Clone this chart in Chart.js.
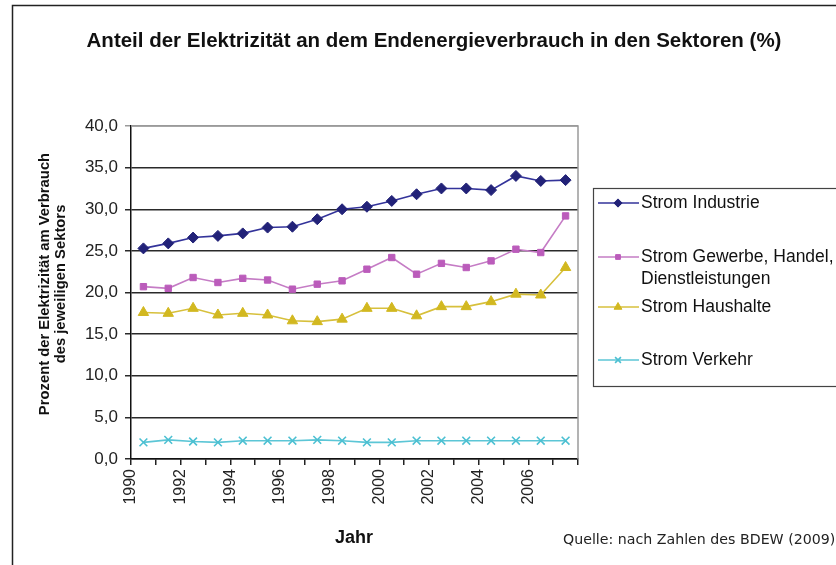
<!DOCTYPE html>
<html>
<head>
<meta charset="utf-8">
<script src="https://cdn.jsdelivr.net/npm/chart.js@4.4.1/dist/chart.umd.min.js"></script>
<style>
    html, body { margin: 0; padding: 0; background: #fff; }
    #wrap { width: 836px; height: 565px; position: relative; }
</style>
</head>
<body>
<div id="wrap"><canvas id="stromChart" width="836" height="565"></canvas></div>
<script>
/* ==========================================================
   DATEN
========================================================== */

const jahre = [1990, 1991, 1992, 1993, 1994, 1995, 1996, 1997, 1998,
               1999, 2000, 2001, 2002, 2003, 2004, 2005, 2006, 2007];

const industrie = [25.3, 25.9, 26.6, 26.8, 27.1, 27.8, 27.9, 28.8, 30.0,
                   30.3, 31.0, 31.8, 32.5, 32.5, 32.3, 34.0, 33.4, 33.5];

const gewerbe = [20.7, 20.5, 21.8, 21.2, 21.7, 21.5, 20.4, 21.0, 21.4,
                 22.8, 24.2, 22.2, 23.5, 23.0, 23.8, 25.2, 24.8, 29.2];

const haushalte = [17.6, 17.5, 18.1, 17.3, 17.5, 17.3, 16.6, 16.5, 16.8,
                   18.1, 18.1, 17.2, 18.3, 18.3, 18.9, 19.8, 19.7, 23.0];

const verkehr = [2.0, 2.3, 2.1, 2.0, 2.2, 2.2, 2.2, 2.3, 2.2,
                 2.0, 2.0, 2.2, 2.2, 2.2, 2.2, 2.2, 2.2, 2.2];

const yTicks = [0, 5, 10, 15, 20, 25, 30, 35, 40];
const xLabelJahre = [1990, 1992, 1994, 1996, 1998, 2000, 2002, 2004, 2006];

const titel = "Anteil der Elektrizität an dem Endenergieverbrauch in den Sektoren (%)";
const yTitel = ["Prozent der Elektrizität am Verbrauch", "des jeweiligen Sektors"];
const xTitel = "Jahr";
const quelle = "Quelle: nach Zahlen des BDEW (2009)";

/* ==========================================================
   HILFSFUNKTIONEN
========================================================== */

// Werte liegen jeweils in der Mitte des Jahres
function punkte(werte) {
    return jahre.map((j, i) => ({ x: j + 0.5, y: werte[i] }));
}

function serie(label, werte, linie, punkt, stil, radius) {
    return {
        label,
        data: punkte(werte),
        borderColor: linie,
        backgroundColor: punkt,
        pointBackgroundColor: punkt,
        pointBorderColor: punkt,
        pointStyle: stil,
        pointRadius: radius,
        pointBorderWidth: stil === "crossRot" ? 1.6 : 1,
        borderWidth: 1.6,
        tension: 0
    };
}

/* ==========================================================
   EXTRAS: Rahmen, Titel, Legende, Quelle
========================================================== */

const legendeZeilen = [
    { ds: 0, texte: ["Strom Industrie"], y: 203 },
    { ds: 1, texte: ["Strom Gewerbe, Handel,", "Dienstleistungen"], y: 257 },
    { ds: 2, texte: ["Strom Haushalte"], y: 307 },
    { ds: 3, texte: ["Strom Verkehr"], y: 360 }
];

const extras = {
    id: "extras",
    afterDraw(chart) {
        const ctx = chart.ctx;
        const a = chart.chartArea;

        ctx.save();

        // Außenrahmen
        ctx.strokeStyle = "#222";
        ctx.lineWidth = 1.5;
        ctx.beginPath();
        ctx.moveTo(12.5, 565);
        ctx.lineTo(12.5, 5.5);
        ctx.lineTo(836, 5.5);
        ctx.stroke();

        // Plotrahmen oben / rechts
        ctx.strokeStyle = "#9a9a9a";
        ctx.lineWidth = 1.5;
        ctx.beginPath();
        ctx.moveTo(a.left, a.top);
        ctx.lineTo(a.right, a.top);
        ctx.lineTo(a.right, a.bottom);
        ctx.stroke();

        // Titel
        ctx.fillStyle = "#111";
        ctx.font = "bold 20.5px 'Liberation Sans', Arial, sans-serif";
        ctx.textAlign = "center";
        ctx.textBaseline = "middle";
        ctx.fillText(titel, 434, 41);

        // X-Achsentitel
        ctx.font = "bold 18px 'Liberation Sans', Arial, sans-serif";
        ctx.fillText(xTitel, 354, 538);

        // Y-Achsentitel
        ctx.save();
        ctx.translate(53, 284);
        ctx.rotate(-Math.PI / 2);
        ctx.font = "bold 14.8px 'Liberation Sans', Arial, sans-serif";
        ctx.fillText(yTitel[0], 0, -8);
        ctx.fillText(yTitel[1], 0, 8);
        ctx.restore();

        // Quelle
        ctx.font = "14.2px 'DejaVu Sans', Verdana, sans-serif";
        ctx.textAlign = "left";
        ctx.fillStyle = "#222";
        ctx.fillText(quelle, 563, 540);

        // Legende
        ctx.strokeStyle = "#444";
        ctx.lineWidth = 1.2;
        ctx.strokeRect(593.5, 188.5, 260, 198);

        ctx.font = "17.5px 'Liberation Sans', Arial, sans-serif";
        legendeZeilen.forEach(z => {
            const ds = chart.data.datasets[z.ds];
            ctx.strokeStyle = ds.borderColor;
            ctx.lineWidth = 1.5;
            ctx.beginPath();
            ctx.moveTo(598, z.y);
            ctx.lineTo(639, z.y);
            ctx.stroke();
            ctx.fillStyle = ds.pointBackgroundColor;
            ctx.strokeStyle = ds.pointBorderColor;
            ctx.lineWidth = ds.pointBorderWidth;
            Chart.helpers.drawPoint(ctx, {
                pointStyle: ds.pointStyle,
                radius: ds.pointRadius * 0.75,
                rotation: 0,
                borderWidth: ds.pointBorderWidth
            }, 618, z.y);
            ctx.fillStyle = "#111";
            ctx.textAlign = "left";
            z.texte.forEach((t, i) => ctx.fillText(t, 641, z.y + i * 22));
        });

        ctx.restore();
    }
};

/* ==========================================================
   CHART
========================================================== */

const ctx = document.getElementById("stromChart").getContext("2d");

const stromChart = new Chart(ctx, {

    type: "line",

    data: {
        datasets: [
            serie("Strom Industrie", industrie, "#33339a", "#222278", "rectRot", 5.5),
            serie("Strom Gewerbe, Handel, Dienstleistungen", gewerbe, "#c57cc5", "#bb5cbb", "rect", 4.5),
            serie("Strom Haushalte", haushalte, "#d7c03c", "#d2b820", "triangle", 6),
            serie("Strom Verkehr", verkehr, "#5cc6d6", "#4cc0d2", "crossRot", 5.5)
        ]
    },

    options: {
        responsive: false,
        animation: false,
        layout: {
            padding: { left: 0, right: 258, top: 126, bottom: 0 }
        },
        plugins: {
            legend: { display: false },
            title: { display: false },
            tooltip: { enabled: false }
        },
        scales: {
            x: {
                type: "linear",
                min: 1990,
                max: 2008,
                afterFit(scale) { scale.height = 565 - 459; },
                afterBuildTicks(scale) {
                    scale.ticks = [];
                    for (let j = 1990; j <= 2008; j++) scale.ticks.push({ value: j });
                },
                ticks: {
                    autoSkip: false,
                    maxRotation: 90,
                    minRotation: 90,
                    padding: 4,
                    color: "#222",
                    font: { family: "'Liberation Sans', Arial, sans-serif", size: 16 },
                    callback: v => xLabelJahre.includes(v) ? String(v) : ""
                },
                grid: {
                    drawOnChartArea: false,
                    drawTicks: true,
                    tickLength: 6,
                    color: "#222",
                    lineWidth: 1.5
                },
                border: { color: "#111", width: 1.5 }
            },
            y: {
                min: 0,
                max: 40,
                afterFit(scale) { scale.width = 131; },
                afterBuildTicks(scale) {
                    scale.ticks = yTicks.map(v => ({ value: v }));
                },
                ticks: {
                    padding: 7,
                    color: "#222",
                    font: { family: "'Liberation Sans', Arial, sans-serif", size: 17 },
                    callback: v => v.toFixed(1).replace(".", ",")
                },
                grid: {
                    tickLength: 6,
                    color: c => c.tick && c.tick.value === 40 ? "#9a9a9a" : "#2a2a2a",
                    lineWidth: 1.5
                },
                border: { color: "#111", width: 1.5 }
            }
        }
    },

    plugins: [extras]

});
</script>
</body>
</html>
